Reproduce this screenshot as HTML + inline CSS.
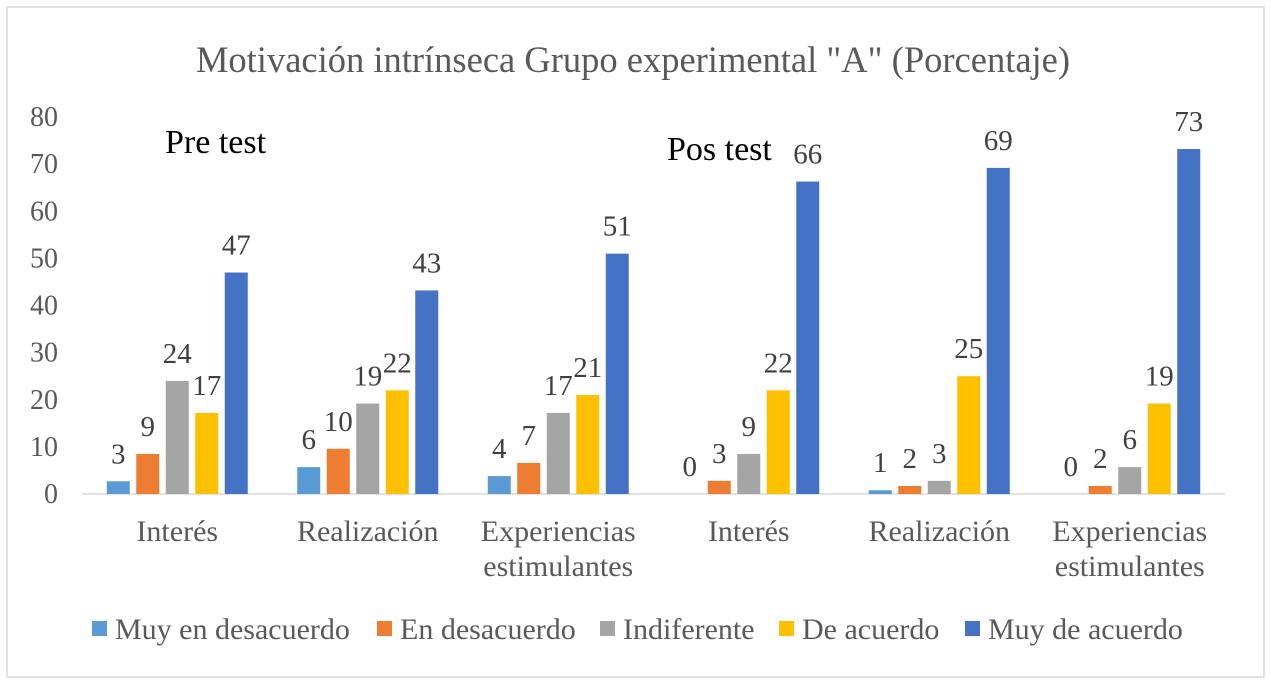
<!DOCTYPE html>
<html><head><meta charset="utf-8"><style>
html,body{margin:0;padding:0;background:#fff}
svg{display:block;font-family:"Liberation Serif",serif}
</style></head><body>
<svg width="1271" height="684" id="c">
<rect x="7" y="7" width="1257" height="670" fill="#fff" stroke="#d9d9d9" stroke-width="1.5"/>
<text x="633" y="72" text-anchor="middle" font-size="36.5" fill="#595959">Motivación intrínseca Grupo experimental "A" (Porcentaje)</text>
<text x="165" y="153" font-size="34" fill="#000">Pre test</text>
<text x="667" y="160" font-size="34" fill="#000">Pos test</text>
<g id="axes"></g><g id="bars"></g><g id="legend"></g>
</svg>
<script>
const categories=[["Interés"],["Realización"],["Experiencias","estimulantes"],["Interés"],["Realización"],["Experiencias","estimulantes"]];
const seriesNames=["Muy en desacuerdo","En desacuerdo","Indiferente","De acuerdo","Muy de acuerdo"];
const muyDesacuerdo=[2.7,5.7,3.8,0,0.8,0];
const desacuerdo=[8.5,9.6,6.6,2.8,1.7,1.7];
const indiferente=[24,19.2,17.2,8.5,2.8,5.7];
const deAcuerdo=[17.2,22,21,22,25,19.2];
const muyDeAcuerdo=[47,43.2,51,66.3,69.2,73.2];
const yTicks=[0,10,20,30,40,50,60,70,80];
const colors=["#5B9BD5","#ED7D31","#A5A5A5","#FFC000","#4472C4"];
const series=[muyDesacuerdo,desacuerdo,indiferente,deAcuerdo,muyDeAcuerdo];
const NS="http://www.w3.org/2000/svg";
const x0=82,x1=1225,yb=494,yt=117,ymax=80;
const y=v=>yb-(v/ymax)*(yb-yt);
const gw=(x1-x0)/categories.length;
const mk=(t,a,p)=>{const e=document.createElementNS(NS,t);for(const k in a)e.setAttribute(k,a[k]);p.appendChild(e);return e;};
const ax=document.getElementById('axes'),bg=document.getElementById('bars'),lg=document.getElementById('legend');
yTicks.forEach(t=>{const e=mk('text',{x:58,y:y(t)+9,'text-anchor':'end','font-size':28,fill:'#595959'},ax);e.textContent=t;

});
const al=mk('line',{x1:x0,x2:x1,y1:yb,y2:yb,stroke:'#d9d9d9','stroke-width':1.5},ax);


categories.forEach((c,i)=>{const cx=x0+gw*(i+0.5);c.forEach((ln,j)=>{const e=mk('text',{x:cx,y:541+j*35,'text-anchor':'middle','font-size':30,fill:'#595959'},ax);e.textContent=ln;

});
series.forEach((s,k)=>{const bx=cx+(k-2)*29.5-11.5;const v=s[i];
const r=mk('rect',{x:bx,y:y(v),width:23,height:yb-y(v),fill:colors[k]},bg);


const t=mk('text',{x:bx+11.5,y:y(v)-18,'text-anchor':'middle','font-size':29,fill:'#404040'},bg);t.textContent=Math.round(v);

});});
const lx=[92,377,600,779,965];
seriesNames.forEach((n,k)=>{const r=mk('rect',{x:lx[k],y:621,width:15,height:15,fill:colors[k]},lg);


const t=mk('text',{x:lx[k]+23,y:639,'font-size':30,fill:'#595959'},lg);t.textContent=n;

});
</script>
</body></html>
